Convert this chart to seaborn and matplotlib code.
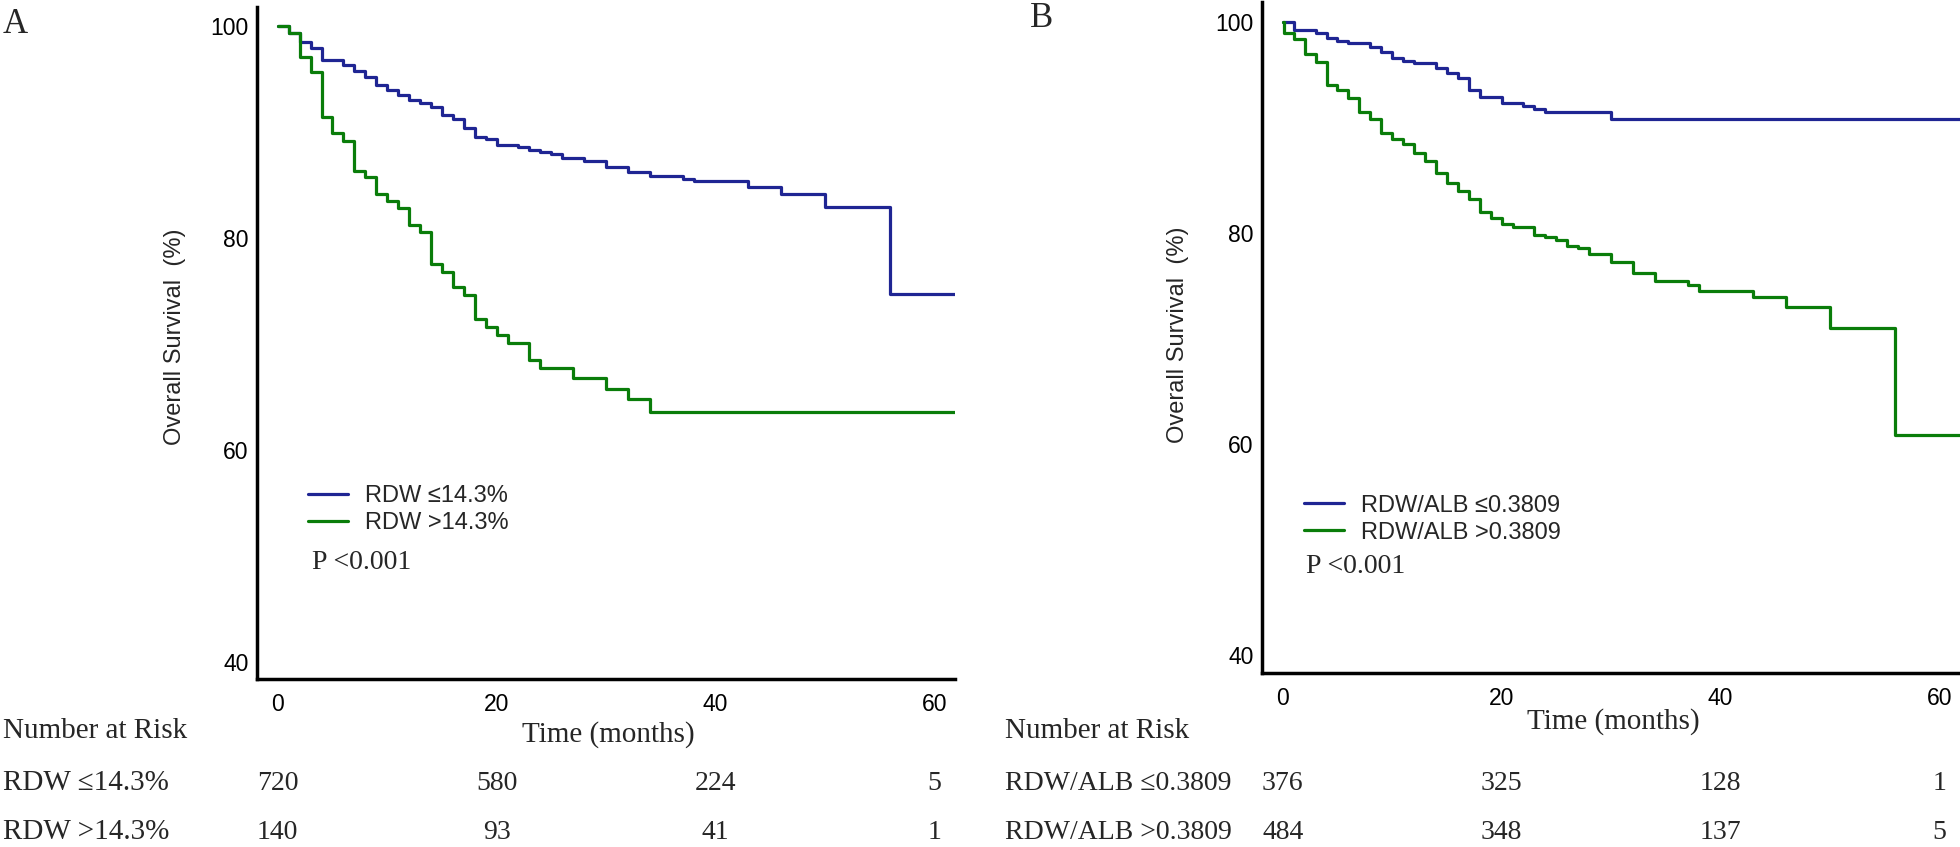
import pandas as pd
import seaborn as sns
import matplotlib.pyplot as plt
import matplotlib.transforms as mtransforms

sns.set_style("white")
plt.rcParams['font.family'] = ['Liberation Sans', 'DejaVu Sans']

# Panel A: RDW groups (time in months, survival in %)
a_low_time = [0, 1, 2, 3, 4, 6, 7, 8, 9, 10, 11, 12, 13, 14, 15, 16, 17, 18, 19, 20,
              22, 23, 24, 25, 26, 28, 30, 32, 34, 37, 38, 43, 46, 50, 56, 62]
a_low_surv = [100, 99.3, 98.5, 97.9, 96.8, 96.3, 95.8, 95.2, 94.4, 94.0, 93.5, 93.0, 92.7, 92.4,
              91.6, 91.2, 90.4, 89.5, 89.3, 88.8, 88.6, 88.3, 88.1, 87.9, 87.6, 87.3, 86.7, 86.2,
              85.9, 85.6, 85.4, 84.8, 84.2, 82.9, 74.7, 74.7]
a_high_time = [0, 1, 2, 3, 4, 5, 6, 7, 8, 9, 10, 11, 12, 13, 14, 15, 16, 17, 18, 19, 20,
               21, 23, 24, 27, 30, 32, 34, 62]
a_high_surv = [100, 99.3, 97.1, 95.7, 91.4, 89.9, 89.2, 86.3, 85.8, 84.2, 83.5, 82.8, 81.2, 80.6,
               77.6, 76.8, 75.4, 74.6, 72.4, 71.6, 70.9, 70.1, 68.5, 67.7, 66.8, 65.8, 64.8, 63.6, 63.6]

# Panel B: RDW/ALB groups
b_low_time = [0, 1, 3, 4, 5, 6, 8, 9, 10, 11, 12, 14, 15, 16, 17, 18, 20, 22, 23, 24, 30, 62]
b_low_surv = [100, 99.2, 99.0, 98.5, 98.2, 98.0, 97.6, 97.2, 96.6, 96.3, 96.1, 95.6, 95.2, 94.7,
              93.6, 92.9, 92.3, 92.0, 91.8, 91.5, 90.8, 90.8]
b_high_time = [0, 0.1, 1, 2, 3, 4, 5, 6, 7, 8, 9, 10, 11, 12, 13, 14, 15, 16, 17, 18, 19, 20,
               21, 23, 24, 25, 26, 27, 28, 30, 32, 34, 37, 38, 43, 46, 50, 56, 62]
b_high_surv = [100, 99.0, 98.4, 97.0, 96.2, 94.0, 93.6, 92.8, 91.5, 90.8, 89.5, 88.9, 88.4, 87.6,
               86.8, 85.7, 84.7, 84.0, 83.2, 82.0, 81.4, 80.9, 80.6, 79.8, 79.6, 79.3, 78.8, 78.6,
               78.0, 77.3, 76.2, 75.5, 75.1, 74.5, 73.9, 73.0, 71.0, 60.9, 60.9]

a_groups = ['RDW ≤14.3%', 'RDW >14.3%']
b_groups = ['RDW/ALB ≤0.3809', 'RDW/ALB >0.3809']
a_risk_labels = ['RDW ≤14.3%', 'RDW >14.3%']
b_risk_labels = ['RDW/ALB ≤0.3809', 'RDW/ALB >0.3809']

risk_times = [0, 20, 40, 60]
a_risk = [[720, 580, 224, 5], [140, 93, 41, 1]]
b_risk = [[376, 325, 128, 1], [484, 348, 137, 5]]

colors = ['#1f2593', '#0a7d0a']
serif = ['Liberation Serif', 'DejaVu Serif']

fig = plt.figure(figsize=(19.6, 8.47), dpi=100)
axA = fig.add_axes([257/1960, 168/847, 698/1960, 672/847])
axB = fig.add_axes([1262/1960, 174/847, 698/1960, 671/847])


def make_df(groups, times, survs):
    frames = []
    for g, t, s in zip(groups, times, survs):
        frames.append(pd.DataFrame({'time': t, 'surv': s, 'group': g}))
    return pd.concat(frames, ignore_index=True)


dfA = make_df(a_groups, [a_low_time, a_high_time], [a_low_surv, a_high_surv])
dfB = make_df(b_groups, [b_low_time, b_high_time], [b_low_surv, b_high_surv])

panels = [
    (axA, dfA, a_groups, a_risk_labels, a_risk, 'A', (3/1960, 1 - 8/847), (0.073, 0.289), (0.079, 0.173),
     (-0.117, 0.509), 3/1960),
    (axB, dfB, b_groups, b_risk_labels, b_risk, 'B', (1030/1960, 1 - 2/847), (0.060, 0.266), (0.063, 0.158),
     (-0.12, 0.504), 1005/1960),
]

for ax, df, groups, risk_labels, risk, letter, letter_pos, leg_pos, p_pos, ylab_pos, row_x in panels:
    sns.lineplot(data=df, x='time', y='surv', hue='group', hue_order=groups,
                 palette=colors, drawstyle='steps-post', estimator=None,
                 linewidth=2.3, legend=False, ax=ax)

    ax.set_xlim(-1.9, 61.9)
    if ax is axA:
        ax.set_ylim(38.4, 101.8)
    else:
        ax.set_ylim(38.3, 101.9)
    ax.set_xticks([0, 20, 40, 60])
    ax.set_yticks([40, 60, 80, 100])

    sns.despine(ax=ax)
    for side in ['left', 'bottom']:
        ax.spines[side].set_linewidth(2.5)
        ax.spines[side].set_color('black')

    ax.tick_params(axis='y', direction='in', length=14, width=2, pad=6, labelsize=16.5, colors='black')
    ax.tick_params(axis='x', direction='in', length=11.5, width=1.5, pad=10, labelsize=16.5, colors='black')

    ax.set_ylabel('Overall Survival  (%)', fontsize=17)
    ax.yaxis.label.set_va('center')
    ax.yaxis.set_label_coords(*ylab_pos)

    ax.set_xlabel('Time (months)', fontsize=21, family=serif)
    ax.xaxis.label.set_va('center')
    ax.xaxis.set_label_coords(0.504, -0.082 if ax is axA else -0.073)

    leg = ax.legend(ax.get_lines()[:2], groups, loc='upper left', bbox_to_anchor=leg_pos,
                    frameon=False, fontsize=17, handlelength=1.7, handletextpad=0.7,
                    labelspacing=0.22, borderpad=0, borderaxespad=0)

    ax.text(p_pos[0], p_pos[1], 'P <0.001', transform=ax.transAxes, fontsize=20,
            family=serif, va='center', ha='left')

    fig.text(letter_pos[0], letter_pos[1], letter, fontsize=25, family=serif, va='top', ha='left')

    # number at risk table
    fig.text(row_x, 1 - 731/847, 'Number at Risk', fontsize=21, family=serif, va='center', ha='left')
    trans = mtransforms.blended_transform_factory(ax.transData, fig.transFigure)
    for row_y, label, counts in zip([1 - 783/847, 1 - 832/847], risk_labels, risk):
        fig.text(row_x, row_y, label, fontsize=21 if ax is axA else 20, family=serif,
                 va='center', ha='left')
        for t, n in zip(risk_times, counts):
            ax.text(t, row_y, str(n), transform=trans, fontsize=20, family=serif,
                    va='center', ha='center', clip_on=False)

fig.savefig('out.png', dpi=100)
